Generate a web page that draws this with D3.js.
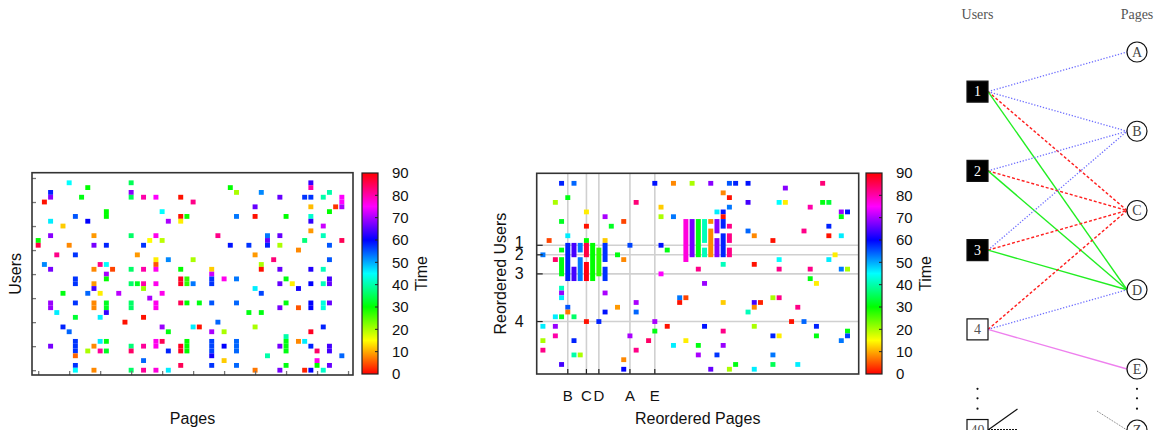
<!DOCTYPE html>
<html>
<head>
<meta charset="utf-8">
<title>users pages time</title>
<style>
  body { margin: 0; background: #fff; }
  text { font-family: "Liberation Sans", Arial, Helvetica, sans-serif; }
  .serif { font-family: "Liberation Serif", "Times New Roman", serif; }
</style>
</head>
<body>
<div id="chart"></div>
<script src="https://cdn.jsdelivr.net/npm/d3@7"></script>
<script>
// ---- data ----
// colour = time (0..90)
var timeDomain = [0, 90];
var timeTicks = [0, 10, 20, 30, 40, 50, 60, 70, 80, 90];
var colDomain = [-1, 50.8];
var rowDomain = [-1, 41.1];

// left: raw matrix, [page, user, time]
var rawCells = [
  [5,39,45],[15,39,35],[44,39,63],
  [8,38,30],[31,38,30],[44,38,80],
  [2,37,58],[15,37,68],[32,37,20],[36,37,52],[47,37,40],
  [2,36,68],[7,36,31],[15,36,35],[17,36,80],[19,36,75],[23,36,1],[39,36,66],[43,36,57],[44,36,57],[46,36,40],[49,36,75],
  [1,35,1],[25,35,82],[49,35,75],
  [35,34,66],[44,34,11],[48,34,3],[49,34,70],
  [11,33,30],[20,33,45],[47,33,30],
  [6,32,55],[11,32,30],[23,32,1],[24,32,29],[32,32,53],[35,32,1],[40,32,30],[44,32,42],
  [2,31,46],[8,31,60],[21,31,70],[23,31,14],[44,31,63],
  [4,30,12],[46,30,72],
  [44,29,9],
  [2,28,68],[9,28,9],[15,28,36],[19,28,76],[29,28,82],[37,28,53],[39,28,66],[46,28,41],
  [0,27,30],[18,27,15],[20,27,19],[37,27,66],[43,27,37],[49,27,85],
  [0,26,86],[5,26,8],[9,26,67],[11,26,58],[17,26,57],[31,26,59],[34,26,57],[37,26,58],[39,26,20],[47,26,55],
  [42,25,8],
  [3,24,82],[6,24,57],[16,24,9],[35,24,9],
  [19,23,14],[21,23,52],[25,23,20],[38,23,83],[47,23,55],
  [1,22,52],[10,22,82],[11,22,45],[19,22,5],[36,22,20],
  [2,21,67],[9,21,8],[12,21,4],[15,21,36],[17,21,80],[19,21,76],[23,21,30],[28,21,12],[36,21,1],[39,21,66],[44,21,62],[46,21,41],
  [11,20,70],[28,20,72],
  [6,19,57],[11,19,30],[23,19,88],[24,19,27],[28,19,57],[30,19,76],[32,19,53],[40,19,31],[47,19,64],
  [6,18,57],[9,18,9],[15,18,36],[16,18,32],[17,18,80],[19,18,76],[23,18,88],[24,18,27],[25,18,53],[28,18,57],[39,18,66],[41,18,14],[44,18,60],[46,18,41],[47,18,66],
  [9,17,64],[17,17,21],[35,17,46],[42,17,61],
  [4,16,31],[8,16,54],[10,16,14],[13,16,71],[20,16,76],[36,16,56],
  [18,15,70],
  [2,14,69],[6,14,57],[9,14,8],[11,14,32],[15,14,36],[19,14,76],[23,14,85],[24,14,30],[26,14,31],[28,14,55],[32,14,54],[40,14,31],[44,14,60],[46,14,43],[47,14,66],
  [2,13,69],[9,13,8],[11,13,32],[15,13,36],[19,13,76],[39,13,67],[42,13,5],[44,13,60],[46,13,43],
  [3,12,46],[11,12,63],[34,12,31],[36,12,31],
  [6,11,33],[10,11,46],[17,11,1],
  [14,10,1],[29,10,54],
  [4,9,58],[20,9,69],[25,9,46],[26,9,1],[35,9,20],[46,9,58],
  [5,8,54],[21,8,31],[28,8,70],[30,8,20],[44,8,88],
  [40,7,40],
  [6,6,57],[10,6,46],[11,6,31],[19,6,76],[20,6,85],[24,6,30],[28,6,56],[32,6,54],[40,6,31],[42,6,8],[43,6,46],
  [2,5,67],[6,5,57],[9,5,8],[15,5,37],[17,5,81],[19,5,76],[23,5,88],[24,5,30],[28,5,56],[30,5,60],[32,5,54],[39,5,67],[40,5,31],[44,5,58],[47,5,64],
  [6,4,57],[8,4,20],[10,4,81],[11,4,32],[15,4,84],[21,4,58],[23,4,88],[24,4,30],[28,4,56],[32,4,54],[40,4,31],[45,4,84],[47,4,64],
  [6,3,6],[28,3,61],[37,3,40],[49,3,54],
  [17,2,54],[30,2,12],[45,2,76],
  [6,1,57],[23,1,85],[28,1,57],[32,1,54],[40,1,31],[45,1,30],[47,1,66],
  [6,0,45],[9,0,8],[15,0,36],[17,0,81],[19,0,77],[21,0,46],[35,0,7],[39,0,67],[43,0,2],[44,0,60],[46,0,42]
];

// middle: reordered matrix, single cells [page, user, time]
var reorderedCells = [
  [3,39,58],[5,39,54],[18,39,59],[21,39,8],[24,39,20],[27,39,68],[30,39,55],[31,39,58],[33,39,59],[45,39,83],
  [39,38,68],[29,37,8],[4,36,31],[30,36,1],
  [2,35,20],[15,35,83],[33,35,64],[38,35,45],[39,35,14],[45,35,31],[46,35,33],
  [19,34,12],[30,34,53],[43,34,80],
  [7,33,14],[28,33,46],[29,33,59],[48,33,69],[49,33,59],
  [10,32,70],[19,32,20],[21,32,53],[29,32,1],[48,32,31],
  [3,31,32],[13,31,4],
  [7,30,1],[11,30,32],[46,30,58],
  [33,29,54],[42,29,82],
  [4,28,46],[34,28,8],[46,28,1],[48,28,46],
  [1,27,4],[7,27,30],[10,27,12],[37,27,1],
  [14,26,56],[19,26,59],
  [3,25,31],[20,25,31],
  [0,24,53],[12,24,31],[47,24,14],
  [2,23,84],[13,23,8],[38,23,45],[46,23,46],
  [29,22,41],[34,22,1],
  [25,21,82],[38,21,82],[43,21,82],[48,21,53],[49,21,20],
  [19,20,75],[43,19,31],[26,18,69],[44,18,14],
  [3,17,41],[3,16,69],[10,16,70],
  [3,15,46],[22,15,53],[23,15,4],[37,15,20],[38,15,82],
  [15,14,70],[22,14,1],[29,14,12],[34,14,64],[35,14,2],
  [4,13,55],[12,13,9],[34,13,8],[41,13,82],
  [4,12,7],[10,12,59],[15,12,54],[33,12,41],
  [2,11,46],[3,11,32],[5,11,36],
  [7,10,1],[9,10,58],[18,10,70],[40,10,1],[42,10,54],
  [0,9,46],[2,9,69],[20,9,1],[26,9,59],[34,9,20],[44,9,58],
  [18,8,31],[29,8,82],[49,8,31],
  [2,7,80],[14,7,70],[37,7,58],[38,7,14],[44,7,31],[49,7,56],
  [0,6,20],[5,6,58],[17,6,84],[23,6,14],[48,6,53],
  [21,5,46],[25,5,31],[29,5,69],
  [0,4,82],[15,4,82],
  [5,3,40],[6,3,20],[25,3,70],[28,3,57],[37,3,53],
  [13,2,8],
  [3,1,64],[31,1,31],[37,1,35],[41,1,46],
  [13,0,60],[27,0,66],[30,0,20],[34,0,46]
];
// middle: vertical runs [page, userFrom, userTo, time]
var reorderedRuns = [
  [3,20,23,31],[4,19,26,58],[5,24,26,64],[5,19,21,64],[6,25,26,53],[6,19,23,53],
  [7,24,26,86],[7,19,22,89],[8,19,26,30],[9,20,25,27],[10,23,26,57],[10,19,21,57],
  [23,23,31,77],[24,24,31,67],[25,24,31,31],[26,27,31,41],[26,24,25,41],
  [27,31,31,8],[27,24,29,8],[28,29,31,68],[28,24,27,68],[29,30,31,58],[29,24,28,58],
  [30,30,30,82],[30,27,28,82],[30,24,25,82]
];
var userMarkRows = [26, 24, 20, 10];
var userMarkLabels = ['1', '2', '3', '4'];
var pageMarkCols = [4, 7, 9, 14, 18];
var pageMarkLabels = ['B', 'C', 'D', 'A', 'E'];

// right: bipartite graph
var users = ['1', '2', '3', '4', '40'];
var userSlots = [0.5, 1.5, 2.5, 3.5, 4.77];
var userHighlighted = [true, true, true, false, false];
var pages = ['A', 'B', 'C', 'D', 'E', 'Z'];
var pageSlots = [0, 1, 2, 3, 4, 4.77];
var edges = [
  ['1','A','blue'],['1','B','blue'],['1','C','red'],['1','D','green'],
  ['2','B','blue'],['2','C','red'],['2','D','green'],
  ['3','B','blue'],['3','C','red'],['3','D','green'],
  ['4','C','red'],['4','D','blue'],['4','E','violet']
];
var ellipsisSlots = [4.25, 4.37, 4.5];

// ---- drawing ----
var W = 1158, H = 430;
var svg = d3.select('#chart').append('svg')
  .attr('width', W).attr('height', H);

var hue = d3.scaleLinear().domain(timeDomain).range([0, 360]);
function timeColor(v) { return d3.hsl(hue(v), 1, 0.5).formatHex(); }

function heatmap(box, cells, runs, opts) {
  var g = svg.append('g');
  var x = d3.scaleLinear().domain(colDomain).range([box.x0, box.x1]);
  var y = d3.scaleLinear().domain(rowDomain).range([box.y1, box.y0]);
  var cw = (x(1) - x(0)) * 0.8;

  if (opts.grid) {
    g.selectAll('.hg').data(userMarkRows).enter().append('line')
      .attr('x1', box.x0).attr('x2', box.x1)
      .attr('y1', function(d){ return y(d); }).attr('y2', function(d){ return y(d); })
      .attr('stroke', '#d0d0d0').attr('stroke-width', 1.6);
    g.selectAll('.vg').data(pageMarkCols).enter().append('line')
      .attr('y1', box.y0).attr('y2', box.y1)
      .attr('x1', function(d){ return x(d); }).attr('x2', function(d){ return x(d); })
      .attr('stroke', '#d0d0d0').attr('stroke-width', 1.6);
  }

  g.selectAll('.cell').data(cells).enter().append('rect')
    .attr('x', function(d){ return x(d[0]) - cw / 2; })
    .attr('y', function(d){ return y(d[1] + 0.5); })
    .attr('width', cw)
    .attr('height', function(d){ return y(d[1] - 0.5) - y(d[1] + 0.5); })
    .attr('fill', function(d){ return timeColor(d[2]); });

  g.selectAll('.run').data(runs).enter().append('rect')
    .attr('x', function(d){ return x(d[0]) - cw / 2; })
    .attr('y', function(d){ return y(d[2] + 0.5); })
    .attr('width', cw)
    .attr('height', function(d){ return y(d[1] - 0.5) - y(d[2] + 0.5); })
    .attr('fill', function(d){ return timeColor(d[3]); });

  if (opts.grid) {
    g.selectAll('.yt').data(userMarkRows).enter().append('line')
      .attr('x1', box.x0).attr('x2', box.x0 + 6)
      .attr('y1', function(d){ return y(d); }).attr('y2', function(d){ return y(d); })
      .attr('stroke', '#222').attr('stroke-width', 1.2);
    g.selectAll('.xt').data(pageMarkCols).enter().append('line')
      .attr('y1', box.y1).attr('y2', box.y1 - 5)
      .attr('x1', function(d){ return x(d); }).attr('x2', function(d){ return x(d); })
      .attr('stroke', '#222').attr('stroke-width', 1.2);
    // labels 1 and 2 sit close together; gnuplot nudged the first one up
    g.selectAll('.yl').data(userMarkRows).enter().append('text')
      .attr('x', box.x0 - 13).attr('y', function(d, i){ return y(d) - (i === 0 ? 3 : 0); })
      .attr('dy', '0.35em').attr('text-anchor', 'end')
      .attr('font-size', 16).attr('fill', '#111')
      .text(function(d, i){ return userMarkLabels[i]; });
    g.selectAll('.xl').data(pageMarkCols).enter().append('text')
      .attr('x', function(d){ return x(d); }).attr('y', box.y1 + 27)
      .attr('text-anchor', 'middle')
      .attr('font-size', 15).attr('fill', '#111')
      .text(function(d, i){ return pageMarkLabels[i]; });
  } else {
    var yAxis = d3.axisLeft(y).tickValues(d3.range(0, 41, 5)).tickSize(-4).tickFormat('');
    var xAxis = d3.axisBottom(x).tickValues(d3.range(0, 51, 5)).tickSize(-4).tickFormat('');
    var ya = g.append('g').attr('transform', 'translate(' + box.x0 + ',0)').call(yAxis);
    var xa = g.append('g').attr('transform', 'translate(0,' + box.y1 + ')').call(xAxis);
    [ya, xa].forEach(function(a){
      a.select('.domain').remove();
      a.selectAll('line').attr('stroke', '#777').attr('stroke-width', 1.3);
    });
  }

  g.append('rect')
    .attr('x', box.x0).attr('y', box.y0)
    .attr('width', box.x1 - box.x0).attr('height', box.y1 - box.y0)
    .attr('fill', 'none').attr('stroke', '#333').attr('stroke-width', 1.6);

  g.append('text')
    .attr('transform', 'translate(' + opts.ylabX + ',' + (box.y0 + box.y1) / 2 + ') rotate(-90)')
    .attr('text-anchor', 'middle').attr('font-size', 16).attr('fill', '#111')
    .text(opts.ylab);
  g.append('text')
    .attr('x', (box.x0 + box.x1) / 2).attr('y', 424)
    .attr('text-anchor', 'middle').attr('font-size', 16).attr('fill', '#111')
    .text(opts.xlab);
}

var defs = svg.append('defs');
var grad = defs.append('linearGradient').attr('id', 'timegrad')
  .attr('x1', 0).attr('x2', 0).attr('y1', 1).attr('y2', 0);
grad.selectAll('stop').data(d3.range(0, 91, 2.5)).enter().append('stop')
  .attr('offset', function(d){ return d / 90; })
  .attr('stop-color', function(d){ return timeColor(d); });

function colorbar(x0, y0, y1) {
  var g = svg.append('g');
  var y = d3.scaleLinear().domain(timeDomain).range([y1, y0]);
  g.append('rect').attr('x', x0).attr('y', y0).attr('width', 16).attr('height', y1 - y0)
    .attr('fill', 'url(#timegrad)').attr('stroke', '#222').attr('stroke-width', 1.2);
  g.selectAll('.ct').data(timeTicks.slice(1, -1)).enter().append('line')
    .attr('x1', x0 + 16).attr('x2', x0 + 13)
    .attr('y1', function(d){ return y(d); }).attr('y2', function(d){ return y(d); })
    .attr('stroke', '#222');
  g.selectAll('.cl').data(timeTicks).enter().append('text')
    .attr('x', x0 + 30).attr('y', function(d){ return y(d); })
    .attr('dy', '0.36em').attr('font-size', 15).attr('fill', '#111')
    .text(function(d){ return d; });
  g.append('text')
    .attr('transform', 'translate(' + (x0 + 65) + ',' + (y0 + y1) / 2 + ') rotate(-90)')
    .attr('text-anchor', 'middle').attr('font-size', 16).attr('fill', '#111')
    .text('Time');
}

heatmap({x0: 32, x1: 353, y0: 172.7, y1: 375}, rawCells, [],
  {grid: false, ylab: 'Users', xlab: 'Pages', ylabX: 21});
colorbar(362, 173, 374);

heatmap({x0: 536.7, x1: 858.7, y0: 173.3, y1: 374}, reorderedCells, reorderedRuns,
  {grid: true, ylab: 'Reordered Users', xlab: 'Reordered Pages', ylabX: 506});
colorbar(866, 173, 374);

// ---- bipartite graph ----
var gx = {user: 977.5, page: 1137};
var slotY = d3.scaleLinear().domain([0, 4]).range([52, 369]);
var userY = d3.scaleOrdinal().domain(users).range(userSlots.map(slotY));
var pageY = d3.scaleOrdinal().domain(pages).range(pageSlots.map(slotY));
var edgeStyle = {
  blue:   {stroke: '#6f6fff', dash: '1.3,1.7', width: 1.3},
  red:    {stroke: '#ff2020', dash: '3,2',     width: 1.4},
  green:  {stroke: '#22ee22', dash: null,      width: 1.4},
  violet: {stroke: '#ee80ee', dash: null,      width: 1.4}
};
var gg = svg.append('g');

gg.append('text').attr('class', 'serif').attr('x', gx.user).attr('y', 19)
  .attr('text-anchor', 'middle').attr('font-size', 14).attr('fill', '#555').text('Users');
gg.append('text').attr('class', 'serif').attr('x', gx.page).attr('y', 19)
  .attr('text-anchor', 'middle').attr('font-size', 14).attr('fill', '#555').text('Pages');

gg.selectAll('.edge').data(edges).enter().append('line')
  .attr('x1', gx.user + 10.5).attr('y1', function(d){ return userY(d[0]); })
  .attr('x2', gx.page - 10).attr('y2', function(d){ return pageY(d[1]); })
  .attr('stroke', function(d){ return edgeStyle[d[2]].stroke; })
  .attr('stroke-width', function(d){ return edgeStyle[d[2]].width; })
  .attr('stroke-dasharray', function(d){ return edgeStyle[d[2]].dash; });

// edges of user 40 / page Z, cut short
var y40 = userY('40'), yZ = pageY('Z');
gg.append('line').attr('x1', gx.user + 10.5).attr('y1', y40).attr('x2', gx.user + 40).attr('y2', y40 - 21)
  .attr('stroke', '#111').attr('stroke-width', 1.2);
gg.append('line').attr('x1', gx.user + 10.5).attr('y1', y40 - 0.5).attr('x2', gx.user + 40).attr('y2', y40 - 0.5)
  .attr('stroke', '#111').attr('stroke-width', 1.2).attr('stroke-dasharray', '2,1');
gg.append('line').attr('x1', gx.page - 40).attr('y1', yZ - 19).attr('x2', gx.page - 10).attr('y2', yZ)
  .attr('stroke', '#777').attr('stroke-width', 1).attr('stroke-dasharray', '1,1');
gg.append('line').attr('x1', gx.page - 40).attr('y1', yZ + 1).attr('x2', gx.page - 10).attr('y2', yZ + 1)
  .attr('stroke', '#111').attr('stroke-width', 1.2);

var un = gg.selectAll('.user').data(users).enter().append('g')
  .attr('transform', function(d){ return 'translate(' + gx.user + ',' + userY(d) + ')'; });
un.append('rect').attr('x', -10.5).attr('y', -10.5).attr('width', 21).attr('height', 21)
  .attr('fill', function(d, i){ return userHighlighted[i] ? '#000' : '#fff'; })
  .attr('stroke', '#111').attr('stroke-width', 1.2);
un.append('text').attr('class', 'serif').attr('text-anchor', 'middle').attr('dy', '0.34em')
  .attr('font-size', 14)
  .attr('fill', function(d, i){ return userHighlighted[i] ? '#fff' : '#555'; })
  .text(function(d){ return d; });

var pn = gg.selectAll('.page').data(pages).enter().append('g')
  .attr('transform', function(d){ return 'translate(' + gx.page + ',' + pageY(d) + ')'; });
pn.append('circle').attr('r', 10).attr('fill', '#fff').attr('stroke', '#111').attr('stroke-width', 1.2);
pn.append('text').attr('class', 'serif').attr('text-anchor', 'middle').attr('dy', '0.34em')
  .attr('font-size', 14).attr('fill', '#444')
  .text(function(d){ return d; });

[gx.user, gx.page].forEach(function(cx){
  gg.selectAll(null).data(ellipsisSlots).enter().append('circle')
    .attr('cx', cx).attr('cy', function(d){ return slotY(d); })
    .attr('r', 1.1).attr('fill', '#111');
});
</script>
</body>
</html>
